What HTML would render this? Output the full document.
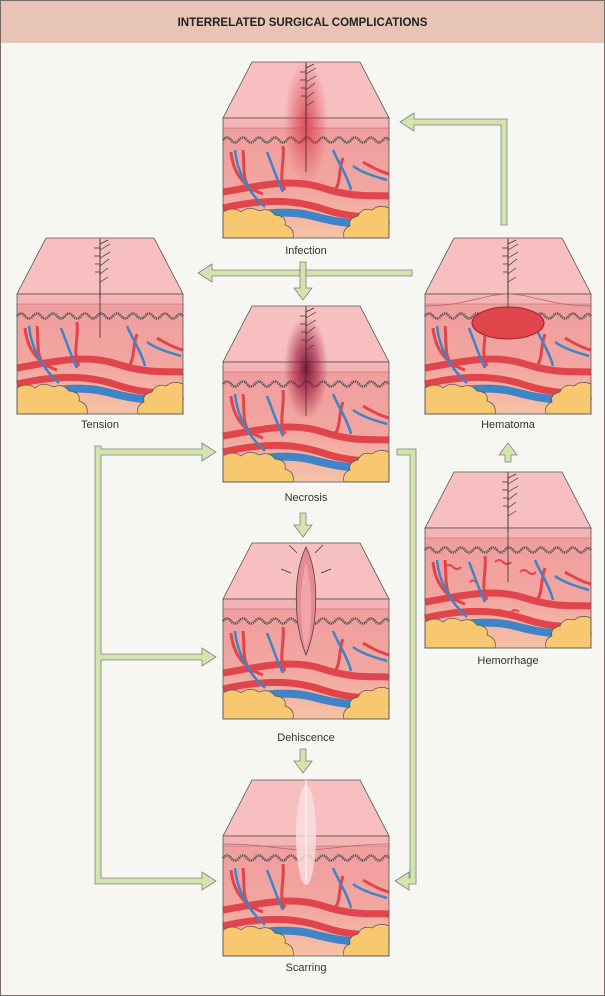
<!DOCTYPE html>
<html><head><meta charset="utf-8"><style>
html,body{margin:0;padding:0;background:#f6f6f2;}
body{width:605px;height:996px;overflow:hidden;position:relative;font-family:"Liberation Sans",Arial,sans-serif;}
#hdr{position:absolute;left:0;top:0;width:603px;height:42px;background:#e8c4b7;border:1px solid #7a6a66;border-bottom:none;text-align:center;line-height:44px;font-weight:bold;font-size:11.5px;color:#222;}
#frame{position:absolute;left:0;top:0;width:603px;height:994px;border:1px solid #7a6a66;}
svg{position:absolute;left:0;top:0;}
</style></head><body>
<div id="frame"></div>
<div id="hdr">INTERRELATED SURGICAL COMPLICATIONS</div>
<svg width="605" height="996" viewBox="0 0 605 996">
<defs>
<linearGradient id="dg" x1="0" y1="0" x2="0" y2="1">
<stop offset="0" stop-color="#f09c9e"/><stop offset="0.6" stop-color="#f2a6a0"/><stop offset="1" stop-color="#f6c2a6"/>
</linearGradient>
<radialGradient id="inf"><stop offset="0" stop-color="#d8283c" stop-opacity="0.75"/><stop offset="1" stop-color="#d8283c" stop-opacity="0"/></radialGradient>
<radialGradient id="nec"><stop offset="0" stop-color="#6a0a2a" stop-opacity="0.9"/><stop offset="0.5" stop-color="#a01840" stop-opacity="0.6"/><stop offset="1" stop-color="#a01840" stop-opacity="0"/></radialGradient>
<g id="blk">
<polygon points="29,0 137,0 166,56 0,56" fill="#f8bfc0" stroke="#555" stroke-width="0.8"/>
<rect x="0" y="56" width="166" height="120" fill="url(#dg)"/>
<rect x="0" y="56" width="166" height="10" fill="#f4b3b5"/>
<line x1="0" y1="66" x2="166" y2="66" stroke="#a66" stroke-width="0.6"/>
<path d="M0,78 q4,-5 8,0 q4,5 8,0 q4,-5 8,0 q4,5 8,0 q4,-5 8,0 q4,5 8,0 q4,-5 8,0 q4,5 8,0 q4,-5 8,0 q4,5 8,0 q4,-5 8,0 q4,5 8,0 q4,-5 8,0 q4,5 8,0 q4,-5 8,0 q4,5 8,0 q4,-5 8,0 q4,5 8,0 q4,-5 8,0 q4,5 8,0 q3,-4 6,0" fill="none" stroke="#555" stroke-width="2.6" stroke-dasharray="1.3 0.8"/>
<path d="M0,130 C40,123 70,116 100,126 S150,133 166,134" stroke="#e0454c" stroke-width="7" fill="none"/>
<path d="M0,146 C40,137 70,137 100,147 S150,155 166,153" stroke="#e0454c" stroke-width="7" fill="none"/>
<path d="M0,158 C30,154 60,146 90,154 S140,164 166,158" stroke="#3f84c6" stroke-width="8" fill="none"/>
<path d="M8,90 C10,110 20,125 40,132 M20,88 C22,105 18,120 30,130 M60,84 C62,100 55,115 62,128 M120,96 C115,110 118,120 112,128 M140,100 C150,106 158,110 166,112" stroke="#e0454c" stroke-width="3" fill="none"/>
<path d="M12,88 C14,110 25,130 42,145 M44,90 C50,105 55,120 60,130 M110,88 C115,100 125,115 128,128 M130,104 C138,110 150,114 164,118" stroke="#3f84c6" stroke-width="2.5" fill="none"/>
<path d="M0,176 L0,150 q10,-6 18,0 q8,-7 18,-1 q10,-4 16,4 q12,1 10,10 q10,3 8,13 Z" fill="#f8c870" stroke="#555" stroke-width="0.7"/>
<path d="M166,176 L166,146 q-10,-4 -17,2 q-10,-3 -14,6 q-10,2 -8,10 q-8,3 -6,12 Z" fill="#f8c870" stroke="#555" stroke-width="0.7"/>
<rect x="0" y="56" width="166" height="120" fill="none" stroke="#555" stroke-width="0.8"/>
</g>
<g id="hair" stroke="#333" stroke-width="0.7" fill="none">
<path d="M83,2 L83,60 M83,6 l8,-4 M83,12 l10,-6 M83,20 l10,-6 M83,28 l9,-7 M83,36 l8,-6 M83,44 l8,-5 M83,10 l-6,0 M83,18 l-6,0 M83,26 l-5,0 M83,34 l-5,0"/>
</g>
</defs>

<g transform="translate(223,62)"><use href="#blk"/><ellipse cx="83" cy="60" rx="22" ry="62" fill="url(#inf)"/><use href="#hair"/><line x1="83" y1="0" x2="83" y2="110" stroke="#333" stroke-width="0.8"/></g>
<g transform="translate(17,238)"><use href="#blk"/><use href="#hair"/><line x1="83" y1="0" x2="83" y2="100" stroke="#333" stroke-width="0.8"/></g>
<g transform="translate(425,238)"><use href="#blk"/><path d="M0,68 C40,68 60,56 83,56 C106,56 126,68 166,68" stroke="#a66" fill="none" stroke-width="0.7"/><ellipse cx="83" cy="85" rx="36" ry="16" fill="#e0454c" stroke="#a02030" stroke-width="1"/><use href="#hair"/><line x1="83" y1="0" x2="83" y2="70" stroke="#333" stroke-width="0.8"/></g>
<g transform="translate(223,306)"><use href="#blk"/><ellipse cx="83" cy="62" rx="22" ry="52" fill="url(#nec)"/><use href="#hair"/><line x1="83" y1="0" x2="83" y2="110" stroke="#333" stroke-width="0.8"/></g>
<g transform="translate(425,472)"><use href="#blk"/><g fill="none" stroke="#e8434a" stroke-width="2"><path d="M20,95 q4,-4 8,0 q4,4 8,0 M70,90 q4,-4 8,0 q4,4 8,0 M95,100 q4,-4 8,0 q4,4 8,0 M70,140 q4,-4 8,0 q4,4 8,0 q4,-4 8,0 M45,110 q3,-3 6,0"/></g><use href="#hair"/><line x1="83" y1="0" x2="83" y2="110" stroke="#333" stroke-width="0.8"/></g>
<g transform="translate(223,543)"><use href="#blk"/><path d="M83,4 C70,30 70,80 83,112 C96,80 96,30 83,4 Z" fill="#e88890" stroke="#444" stroke-width="0.8"/><path d="M83,20 C76,45 76,80 83,108 C90,80 90,45 83,20 Z" fill="#f2a5a8"/><path d="M74,10 l-8,-8 M92,10 l8,-8 M68,30 l-10,-4 M98,30 l10,-4" stroke="#333" stroke-width="0.7"/></g>
<g transform="translate(223,780)"><use href="#blk"/><path d="M0,64 C40,64 60,70 83,70 C106,70 126,64 166,64" stroke="#a66" fill="none" stroke-width="0.7"/><ellipse cx="83" cy="55" rx="10" ry="50" fill="#fbe0e0" opacity="0.8"/><line x1="83" y1="0" x2="83" y2="100" stroke="#fff" stroke-width="1"/></g>

<g font-size="11" fill="#333" text-anchor="middle" font-family="Liberation Sans, Arial, sans-serif">
<text x="306" y="254">Infection</text>
<text x="100" y="428">Tension</text>
<text x="508" y="428">Hematoma</text>
<text x="306" y="501">Necrosis</text>
<text x="508" y="664">Hemorrhage</text>
<text x="306" y="741">Dehiscence</text>
<text x="306" y="971">Scarring</text>
</g>

<g fill="#d4e4ae" stroke="#808080" stroke-width="0.8">
<polygon points="501,225 501,125 414,125 414,131 400,122 414,113 414,119 507,119 507,225"/>
<polygon points="412,270 212,270 212,264 198,273 212,282 212,276 412,276"/>
<polygon points="300,262 306,262 306,288 312,288 303,300 294,288 300,288"/>
<polygon points="300,513 306,513 306,525 312,525 303,537 294,525 300,525"/>
<polygon points="300,749 306,749 306,761 312,761 303,773 294,761 300,761"/>
<polygon points="505,462 511,462 511,455 517,455 508,443 499,455 505,455"/>
<polygon points="95,446 101,446 101,449 202,449 202,443 216,452 202,461 202,455 101,455 101,654 202,654 202,648 216,657 202,666 202,660 101,660 101,878 202,878 202,872 216,881 202,890 202,884 95,884"/>
<polygon points="397,449 416,449 416,884 409,884 409,890 395,881 409,872 409,878 410,878 410,455 397,455"/>
</g>
</svg>
</body></html>
